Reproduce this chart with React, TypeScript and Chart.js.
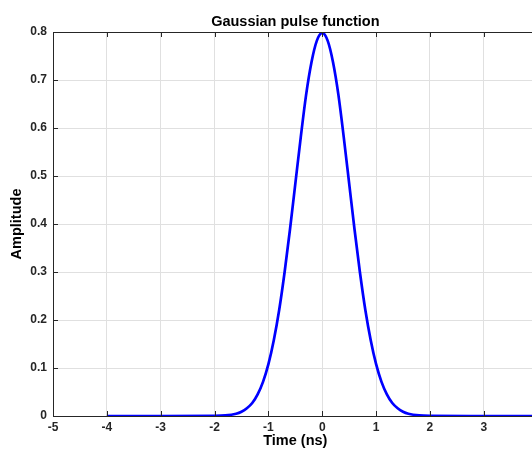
import React, { useEffect, useRef } from "react";
import { Chart, registerables } from "chart.js";

Chart.register(...registerables);

const chartTitle = "Gaussian pulse function";
const xAxisLabel = "Time (ns)";
const yAxisLabel = "Amplitude";

// time samples (ns)
const timeNs = [
  -4, -3, -2, -1.8, -1.6, -1.5, -1.4, -1.3, -1.2, -1.1, -1.0, -0.9, -0.8, -0.7, -0.6, -0.5, -0.4,
  -0.3, -0.2, -0.1, 0, 0.1, 0.2, 0.3, 0.4, 0.5, 0.6, 0.7, 0.8, 0.9, 1.0, 1.1, 1.2, 1.3, 1.4, 1.5,
  1.6, 1.8, 2, 3, 4,
];
// amplitude
const amplitude = [
  0, 0, 0.0003, 0.0012, 0.0048, 0.0089, 0.016, 0.027, 0.045, 0.071, 0.108, 0.158, 0.221, 0.299,
  0.388, 0.484, 0.580, 0.669, 0.737, 0.782, 0.798, 0.782, 0.737, 0.669, 0.580, 0.484, 0.388,
  0.299, 0.221, 0.158, 0.108, 0.071, 0.045, 0.027, 0.016, 0.0089, 0.0048, 0.0012, 0.0003, 0, 0,
];
const xTicks = [-5, -4, -3, -2, -1, 0, 1, 2, 3, 4];
const yTicks = [0, 0.1, 0.2, 0.3, 0.4, 0.5, 0.6, 0.7, 0.8];

const CANVAS_W = 545;
const CANVAS_H = 449;
const FONT = "'Liberation Sans', Arial, Helvetica, sans-serif";
const AXIS_COLOR = "#262626";

const framePlugin = {
  id: "frame",
  afterDraw(chart: any) {
    const { ctx, chartArea } = chart;
    const xs = chart.scales.x;
    const ys = chart.scales.y;
    ctx.save();
    ctx.strokeStyle = AXIS_COLOR;
    ctx.lineWidth = 1;
    ctx.beginPath();
    ctx.moveTo(chartArea.left + 0.5, chartArea.bottom + 0.5);
    ctx.lineTo(chartArea.left + 0.5, chartArea.top + 0.5);
    ctx.lineTo(chartArea.right + 0.5, chartArea.top + 0.5);
    ctx.lineTo(chartArea.right + 0.5, chartArea.bottom + 0.5);
    ctx.lineTo(chartArea.left + 0.5, chartArea.bottom + 0.5);
    const tl = 5;
    xTicks.forEach((v) => {
      const px = Math.round(xs.getPixelForValue(v)) + 0.5;
      ctx.moveTo(px, chartArea.bottom);
      ctx.lineTo(px, chartArea.bottom - tl);
      ctx.moveTo(px, chartArea.top);
      ctx.lineTo(px, chartArea.top + tl);
    });
    yTicks.forEach((v) => {
      const py = Math.round(ys.getPixelForValue(v)) + 0.5;
      ctx.moveTo(chartArea.left, py);
      ctx.lineTo(chartArea.left + tl, py);
      ctx.moveTo(chartArea.right, py);
      ctx.lineTo(chartArea.right - tl, py);
    });
    ctx.stroke();
    ctx.fillStyle = "#000";
    ctx.font = `bold 14.5px ${FONT}`;
    ctx.textAlign = "center";
    ctx.textBaseline = "middle";
    ctx.fillText(chartTitle, (chartArea.left + chartArea.right) / 2, 22);
    ctx.restore();
  },
};

export default function App() {
  const ref = useRef<HTMLCanvasElement | null>(null);
  useEffect(() => {
    if (!ref.current) return;
    const chart = new Chart(ref.current, {
      type: "line",
      data: {
        datasets: [
          {
            data: timeNs.map((t, i) => ({ x: t, y: amplitude[i] })),
            borderColor: "#0000ff",
            borderWidth: 2.7,
            pointRadius: 0,
            cubicInterpolationMode: "monotone",
            fill: false,
          },
        ],
      },
      options: {
        animation: false,
        responsive: false,
        devicePixelRatio: 1,
        layout: { padding: { top: 32, right: CANVAS_W - 539, left: 0, bottom: 0 } },
        plugins: { legend: { display: false }, tooltip: { enabled: false } },
        scales: {
          x: {
            type: "linear",
            min: -5,
            max: 4,
            afterBuildTicks: (s: any) => {
              s.ticks = xTicks.map((v) => ({ value: v }));
            },
            afterFit: (s: any) => {
              s.height = 33;
            },
            ticks: {
              padding: 4,
              color: AXIS_COLOR,
              font: { family: FONT, weight: "bold", size: 12 },
              maxRotation: 0,
              autoSkip: false,
            },
            grid: { color: "#e0e0e0", drawTicks: false },
            border: { display: false },
            title: {
              display: true,
              text: xAxisLabel,
              color: "#000",
              font: { family: FONT, weight: "bold", size: 14.5 },
              padding: { top: 0, bottom: -1 },
            },
          },
          y: {
            type: "linear",
            min: 0,
            max: 0.8,
            afterBuildTicks: (s: any) => {
              s.ticks = yTicks.map((v) => ({ value: v }));
            },
            afterFit: (s: any) => {
              s.width = 53;
            },
            ticks: {
              padding: 6,
              color: AXIS_COLOR,
              font: { family: FONT, weight: "bold", size: 12 },
              callback: (v: any) => String(Math.round(Number(v) * 10) / 10),
            },
            grid: { color: "#e0e0e0", drawTicks: false },
            border: { display: false },
            title: {
              display: true,
              text: yAxisLabel,
              color: "#000",
              font: { family: FONT, weight: "bold", size: 14.5 },
              padding: { top: 8, bottom: 0 },
            },
          },
        },
      },
      plugins: [framePlugin],
    });
    return () => chart.destroy();
  }, []);
  return (
    <div
      style={{
        position: "fixed",
        left: 0,
        top: 0,
        width: 532,
        height: 449,
        overflow: "hidden",
        background: "#fff",
      }}
    >
      <canvas ref={ref} width={CANVAS_W} height={CANVAS_H} style={{ display: "block" }} />
    </div>
  );
}
